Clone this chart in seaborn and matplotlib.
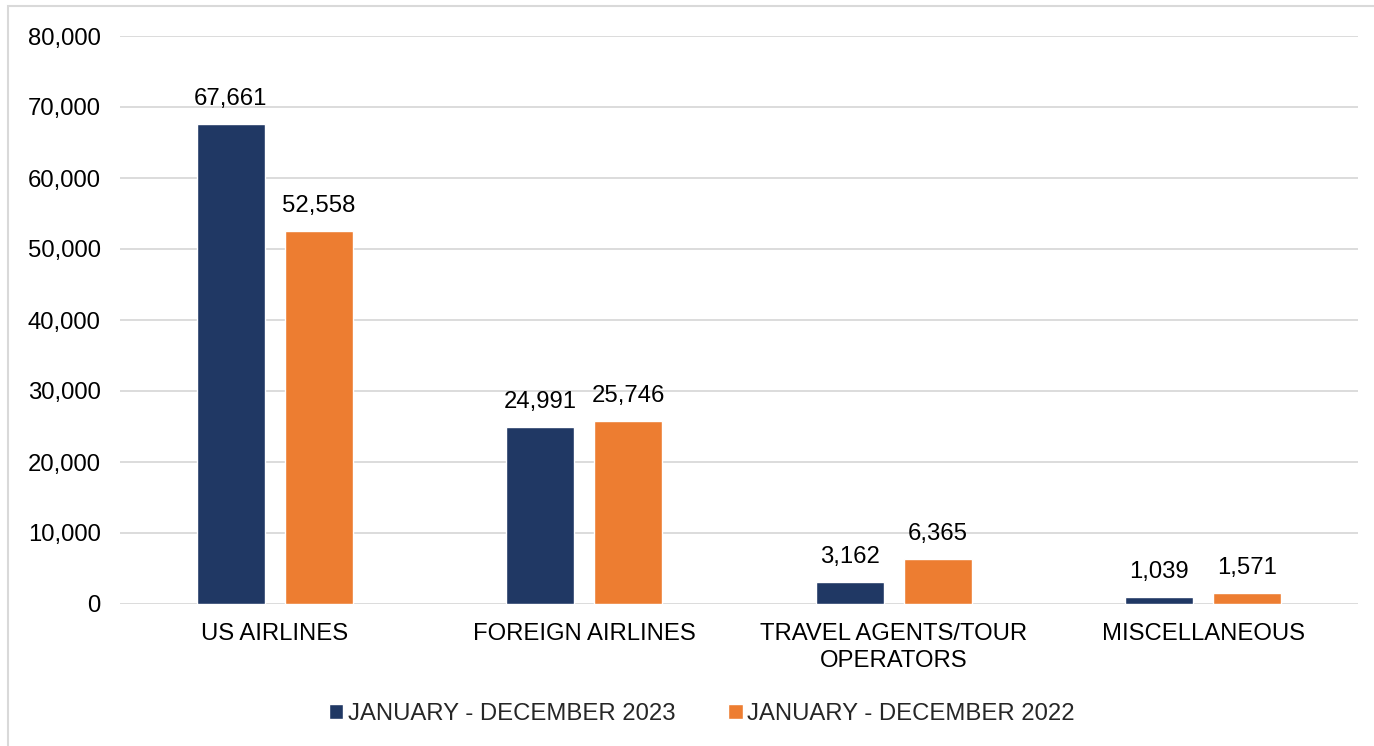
import matplotlib
matplotlib.use("Agg")
import matplotlib.pyplot as plt
from matplotlib.patches import Rectangle
from matplotlib.ticker import FuncFormatter, MultipleLocator
import pandas as pd
import seaborn as sns

# data
categories = ["US AIRLINES", "FOREIGN AIRLINES", "TRAVEL AGENTS/TOUR\nOPERATORS", "MISCELLANEOUS"]
series_names = ["JANUARY - DECEMBER 2023", "JANUARY - DECEMBER 2022"]
values_2023 = [67661, 24991, 3162, 1039]
values_2022 = [52558, 25746, 6365, 1571]
colors = ["#203864", "#ED7D31"]

df = pd.DataFrame({
    "category": categories * 2,
    "period": [series_names[0]] * 4 + [series_names[1]] * 4,
    "value": values_2023 + values_2022,
})

sns.set_style("white")
plt.rcParams["font.family"] = ["Liberation Sans", "DejaVu Sans"]
fs = 17.2

fig = plt.figure(figsize=(13.74, 7.46), dpi=100)
ax = fig.add_axes([120 / 1374, 1 - 604 / 746, 1238 / 1374, 568 / 746])

sns.barplot(data=df, x="category", y="value", hue="period", order=categories,
            hue_order=series_names, palette=colors, width=0.569, gap=0.227,
            saturation=1, legend=False, ax=ax)

for cont, vals in zip(ax.containers, [values_2023, values_2022]):
    ax.bar_label(cont, labels=[f"{v:,}" for v in vals], padding=10, fontsize=fs, color="black")

ax.set_ylim(0, 80000)
ax.yaxis.set_major_locator(MultipleLocator(10000))
ax.yaxis.set_major_formatter(FuncFormatter(lambda v, p: f"{int(v):,}"))
ax.grid(axis="y", color="#D9D9D9", linewidth=1.3)
ax.set_axisbelow(True)
for s in ax.spines.values():
    s.set_visible(False)
ax.tick_params(axis="y", length=0, pad=14, labelsize=fs, labelcolor="black")
ax.tick_params(axis="x", length=0, pad=14, labelsize=fs, labelcolor="black")
ax.set_xlabel("")
ax.set_ylabel("")
for t in ax.get_xticklabels():
    t.set_linespacing(1.25)
    t.set_multialignment("center")

handles = [Rectangle((0, 0), 1, 1, facecolor=c) for c in colors]
fig.legend(handles, series_names, loc="center", bbox_to_anchor=(702 / 1374, 1 - 714 / 746),
           ncol=2, frameon=False, fontsize=fs, handlelength=0.6, handleheight=0.6,
           handletextpad=0.2, columnspacing=2.2, borderpad=0)

# light frame round the chart area
fig.patches.append(Rectangle((8 / 1374, -0.05), 1.1, 1.05 - 6 / 746, transform=fig.transFigure,
                             fill=False, edgecolor="#D9D9D9", linewidth=1.5))

fig.savefig("out.png", dpi=100)
